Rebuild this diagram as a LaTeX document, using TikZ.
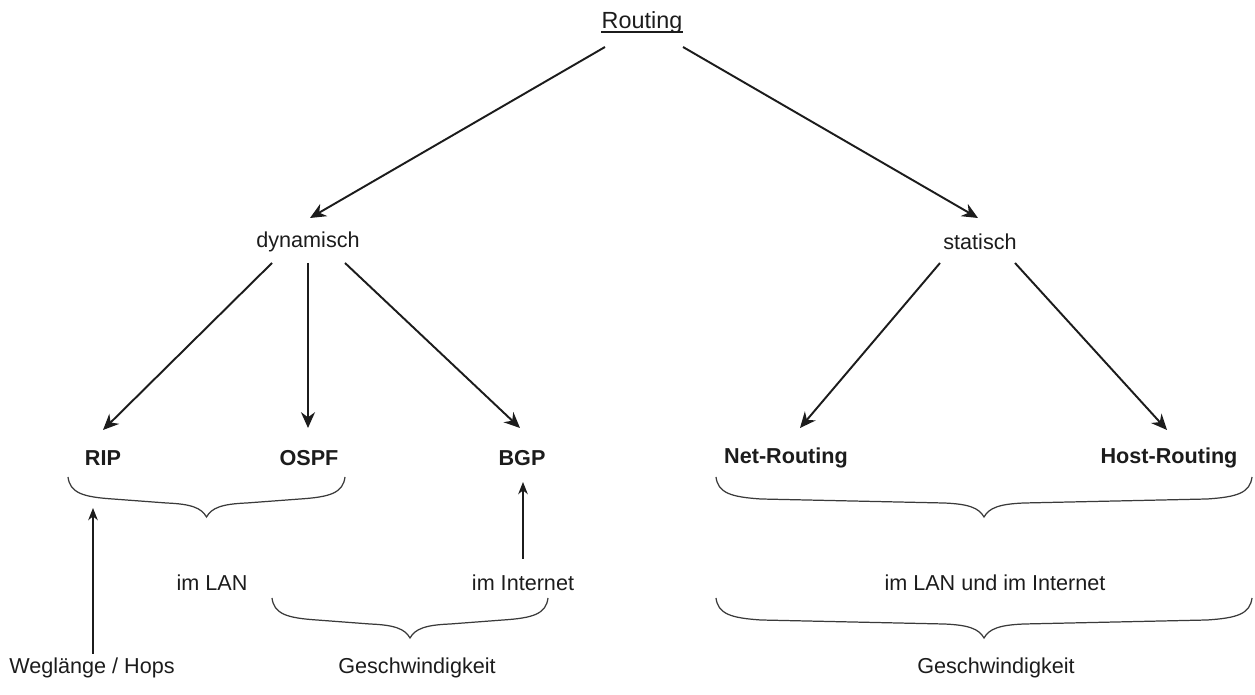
\documentclass[tikz,border=0pt]{standalone}
\usepackage{fontspec}
\setmainfont{Liberation Sans}
\usetikzlibrary{arrows.meta,calc}

% downward curly brace: left x, right x, top y (pixel units, y grows downwards)
\newcommand\downbrace[3]{%
  \pgfmathsetmacro\bxm{(#1+#2)/2}%
  \draw[bracestyle]
    (#1,#3) .. controls ({#1+2},{#3+16}) and ({#1+15},{#3+20}) .. ({#1+45},{#3+22})
    -- ({\bxm-40},{#3+26})
    .. controls ({\bxm-15},{#3+27}) and ({\bxm-5},{#3+31}) .. (\bxm,{#3+40})
    .. controls ({\bxm+5},{#3+31}) and ({\bxm+15},{#3+27}) .. ({\bxm+40},{#3+26})
    -- ({#2-45},{#3+22})
    .. controls ({#2-15},{#3+20}) and ({#2-2},{#3+16}) .. (#2,#3);
}

\definecolor{ink}{HTML}{1C1C1C}
\definecolor{bracegray}{HTML}{3A3A3A}

\tikzset{
  lbl/.style={text=ink, inner sep=0pt, font=\fontsize{12.3}{14.8}\selectfont},
  boldlbl/.style={lbl, font=\fontsize{12.3}{14.8}\selectfont\bfseries},
  titlelbl/.style={lbl, font=\fontsize{13.3}{16}\selectfont},
  arr/.style={draw=ink, line width=1.1pt, -{Stealth[length=9pt,width=8pt]}},
  thinarr/.style={draw=ink, line width=0.6pt, -{Stealth[length=7pt,width=5.5pt]}},
  bracestyle/.style={draw=bracegray, line width=0.7pt}
}

\begin{document}
\begin{tikzpicture}[x=0.02cm, y=-0.02cm]
  \useasboundingbox (0,0) rectangle (1255,695);

  % tree nodes
  \node[titlelbl] (routing) at (642,22) {Routing};
  \draw[ink, line width=1pt] ([yshift=-2.2pt]routing.base west) -- ([yshift=-2.2pt]routing.base east);
  \node[lbl] (dyn) at (308,242) {dynamisch};
  \node[lbl] (stat) at (980,242) {statisch};
  \node[boldlbl] (rip) at (103,458) {RIP};
  \node[boldlbl] (ospf) at (309,458) {OSPF};
  \node[boldlbl] (bgp) at (522,458) {BGP};
  \node[boldlbl] (net) at (786,458) {Net-Routing};
  \node[boldlbl] (host) at (1169,458) {Host-Routing};

  % annotations
  \node[lbl] (lan) at (212,583) {im LAN};
  \node[lbl] (inet) at (523,583) {im Internet};
  \node[lbl] (both) at (995,583) {im LAN und im Internet};
  \node[lbl] (weg) at (92,668) {Weglänge / Hops};
  \node[lbl] (speedl) at (417,668) {Geschwindigkeit};
  \node[lbl] (speedr) at (996,668) {Geschwindigkeit};
  \coordinate (ripbrace) at (93,508);

  % tree edges
  \draw[arr] ($(routing)+(-37,25)$) -- ($(dyn)+(2,-24)$);
  \draw[arr] ($(routing)+(41,25)$) -- ($(stat)+(-2,-24)$);
  \draw[arr] ($(dyn)+(-36,21)$) -- ($(rip)+(0,-28)$);
  \draw[arr] ($(dyn)+(0,21)$) -- ($(ospf)+(-1,-30)$);
  \draw[arr] ($(dyn)+(37,21)$) -- ($(bgp)+(-2,-30)$);
  \draw[arr] ($(stat)+(-40,21)$) -- ($(net)+(14,-30)$);
  \draw[arr] ($(stat)+(35,21)$) -- ($(host)+(-2,-28)$);

  % pointers to groups
  \draw[thinarr] ($(weg)+(1,-14)$) -- (ripbrace);
  \draw[thinarr] ($(inet)+(0,-24)$) -- ($(bgp)+(1,24)$);

  % braces
  \downbrace{68}{345}{477}
  \downbrace{272}{548}{598}
  \downbrace{716}{1252}{477}
  \downbrace{716}{1252}{598}
\end{tikzpicture}
\end{document}
